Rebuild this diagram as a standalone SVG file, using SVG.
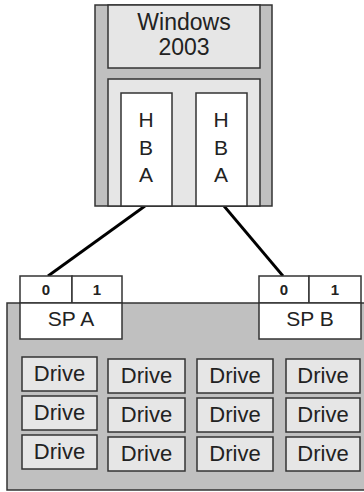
<svg xmlns="http://www.w3.org/2000/svg" width="364" height="492" viewBox="0 0 364 492">
<style>
.b{stroke:#333;stroke-width:1.5}
.g{fill:#c0c0c0}
.l{fill:#e6e6e6}
.w{fill:#fff}
text{font-family:"Liberation Sans",Arial,sans-serif;fill:#222;text-anchor:middle}
.t{font-size:21px}
.v{font-size:23px}
.d{font-size:22px}
.s{font-size:15px;font-weight:bold}
.c{stroke:#000;stroke-width:2.8;fill:none}
</style>
<g id="storage">
<rect class="b g" x="7" y="303" width="360" height="187"/>
</g>
<g id="connectors">
<line class="c" x1="145" y1="206" x2="48" y2="276"/>
<line class="c" x1="224" y1="206" x2="283" y2="276"/>
</g>
<g id="server">
<rect class="b g" x="95" y="5" width="177" height="201"/>
<rect class="b l" x="108" y="5" width="152" height="63"/>
<text class="v" x="184" y="30">Windows</text>
<text class="v" x="184" y="55">2003</text>
<rect class="b l" x="108" y="79" width="152" height="127"/>
</g>
<g id="hba1">
<rect class="b w" x="121" y="93" width="51" height="113"/>
<text class="t" x="146" y="127">H</text>
<text class="t" x="146" y="155">B</text>
<text class="t" x="146" y="182">A</text>
</g>
<g id="hba2">
<rect class="b w" x="196" y="93" width="51" height="113"/>
<text class="t" x="221" y="127">H</text>
<text class="t" x="221" y="155">B</text>
<text class="t" x="221" y="182">A</text>
</g>
<g id="spa">
<rect class="b w" x="20" y="276" width="52" height="27"/>
<rect class="b w" x="72" y="276" width="50" height="27"/>
<rect class="b w" x="20" y="303" width="102" height="36"/>
<text class="s" x="46" y="295">0</text>
<text class="s" x="97" y="295">1</text>
<text class="t" x="71" y="326">SP A</text>
</g>
<g id="spb">
<rect class="b w" x="259" y="276" width="50" height="27"/>
<rect class="b w" x="309" y="276" width="52" height="27"/>
<rect class="b w" x="259" y="303" width="102" height="36"/>
<text class="s" x="284" y="295">0</text>
<text class="s" x="335" y="295">1</text>
<text class="t" x="310" y="326">SP B</text>
</g>
<g id="drives">
<g id="d11"><rect class="b l" x="22" y="357" width="75" height="34"/><text class="d" x="59.5" y="381">Drive</text></g>
<g id="d21"><rect class="b l" x="22" y="396" width="75" height="34"/><text class="d" x="59.5" y="420">Drive</text></g>
<g id="d31"><rect class="b l" x="22" y="435" width="75" height="34"/><text class="d" x="59.5" y="459">Drive</text></g>
<g id="d12"><rect class="b l" x="108" y="359" width="77" height="34"/><text class="d" x="146.5" y="383">Drive</text></g>
<g id="d22"><rect class="b l" x="108" y="398" width="77" height="34"/><text class="d" x="146.5" y="422">Drive</text></g>
<g id="d32"><rect class="b l" x="108" y="437" width="77" height="34"/><text class="d" x="146.5" y="461">Drive</text></g>
<g id="d13"><rect class="b l" x="197" y="359" width="76" height="34"/><text class="d" x="235" y="383">Drive</text></g>
<g id="d23"><rect class="b l" x="197" y="398" width="76" height="34"/><text class="d" x="235" y="422">Drive</text></g>
<g id="d33"><rect class="b l" x="197" y="437" width="76" height="34"/><text class="d" x="235" y="461">Drive</text></g>
<g id="d14"><rect class="b l" x="286" y="359" width="74" height="34"/><text class="d" x="323" y="383">Drive</text></g>
<g id="d24"><rect class="b l" x="286" y="398" width="74" height="34"/><text class="d" x="323" y="422">Drive</text></g>
<g id="d34"><rect class="b l" x="286" y="437" width="74" height="34"/><text class="d" x="323" y="461">Drive</text></g>
</g>
</svg>
